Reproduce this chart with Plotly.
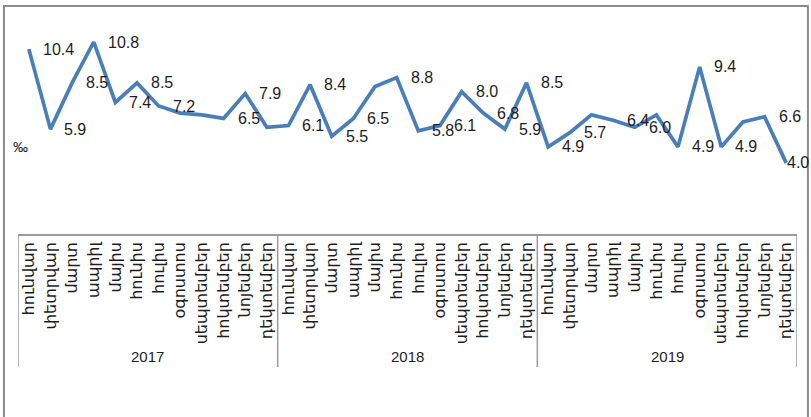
import plotly.graph_objects as go

years = ["2017", "2018", "2019"]
months = ["հունվար", "փետրվար", "մարտ", "ապրիլ", "մայիս", "հունիս",
          "հուլիս", "օգոստոս", "սեպտեմբեր", "հոկտեմբեր", "նոյեմբեր", "դեկտեմբեր"]
values = [10.4, 5.9, 8.5, 10.8, 7.4, 8.5, 7.2, 6.8, 6.7, 6.5, 7.9, 6.0,
          6.1, 8.4, 5.5, 6.5, 8.3, 8.8, 5.8, 6.1, 8.0, 6.8, 5.9, 8.5,
          4.9, 5.7, 6.7, 6.4, 6.0, 6.7, 4.9, 9.4, 4.9, 6.3, 6.6, 4.0]
labeled = [True, True, True, True, True, True, True, False, False, True, True, False,
           True, True, True, True, False, True, True, True, True, True, True, True,
           True, True, False, True, True, False, True, True, True, False, True, True]
unit = "‰"

n = len(values)
xs = list(range(n))
ticktext = [m for _ in years for m in months]

LINE = "#4A7EBB"
TXT = "#1e1e1e"
GRID = "#9a9a9a"
NUMFONT = "Liberation Sans, Arial, sans-serif"

fig = go.Figure()
fig.add_trace(go.Scatter(x=xs, y=values, mode="lines",
                         line=dict(color=LINE, width=3.7),
                         hoverinfo="skip", showlegend=False))

annotations = []
for i, (v, lab) in enumerate(zip(values, labeled)):
    if not lab:
        continue
    annotations.append(dict(x=xs[i], y=v, xref="x", yref="y", text=f"{v:.1f}",
                            showarrow=False, xanchor="left", yanchor="middle",
                            xshift=12 if i < n - 1 else -1,
                            font=dict(family=NUMFONT, size=16, color=TXT)))
ng = len(months)
for k, yr in enumerate(years):
    annotations.append(dict(x=k * ng + (ng - 1) / 2, y=-0.545, xref="x", yref="paper",
                            text=yr, showarrow=False, xanchor="center", yanchor="middle",
                            font=dict(family=NUMFONT, size=15, color=TXT)))
annotations.append(dict(x=0.003, y=0.39, xref="paper", yref="paper", text=unit,
                        showarrow=False, xanchor="center", yanchor="middle",
                        font=dict(family=NUMFONT, size=15, color=TXT)))

shapes = [dict(type="rect", xref="paper", yref="paper", x0=-0.018, x1=1.014,
               y0=-1.2, y1=1.018, line=dict(color="#8c8c8c", width=2))]
for k in range(len(years) + 1):
    shapes.append(dict(type="line", xref="x", yref="paper", x0=k * ng - 0.5, x1=k * ng - 0.5,
                       y0=0, y1=-0.594, line=dict(color=GRID, width=1.5)))

fig.update_layout(
    width=811, height=417,
    margin=dict(l=18, r=14, t=10, b=183),
    paper_bgcolor="white", plot_bgcolor="white",
    annotations=annotations, shapes=shapes,
    xaxis=dict(range=[-0.5, n - 0.5], tickmode="array", tickvals=xs, ticktext=ticktext,
               tickangle=-90, showgrid=False, zeroline=False, showline=True,
               linecolor=GRID, linewidth=1.5, ticks="", automargin=False,
               tickfont=dict(family="DejaVu Sans", size=16, color=TXT)),
    yaxis=dict(range=[0, 12.6], showgrid=False, zeroline=False, showline=False,
               showticklabels=False, ticks="", automargin=False),
)

fig.write_html("out.html")
